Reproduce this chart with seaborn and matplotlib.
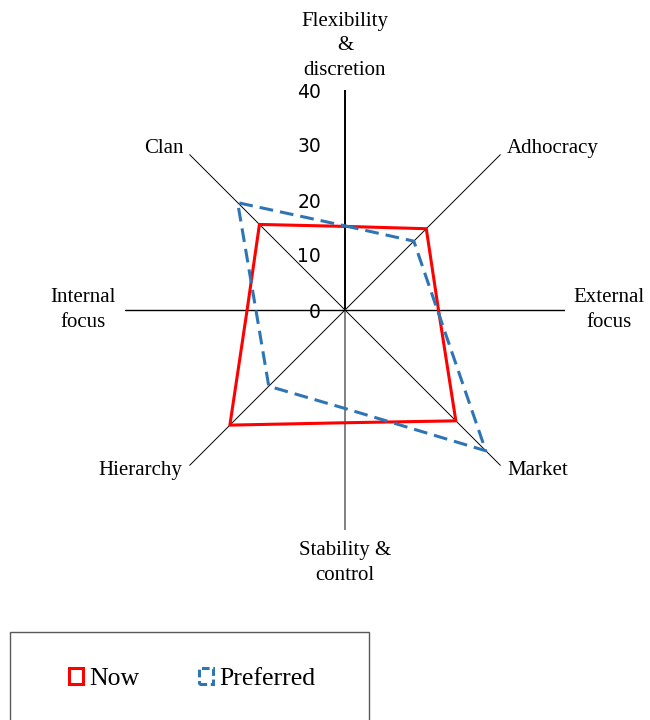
import numpy as np
import pandas as pd
import matplotlib
matplotlib.use("Agg")
import matplotlib.pyplot as plt
import matplotlib.patches as mpatches
import seaborn as sns

# categories clockwise from the top
categories = ["Flexibility\n&\ndiscretion", "Adhocracy", "External\nfocus", "Market",
              "Stability &\ncontrol", "Hierarchy", "Internal\nfocus", "Clan"]
now = [15.2, 20.9, 17.0, 28.5, 20.5, 29.6, 17.8, 22.0]
preferred = [15.3, 17.7, 16.8, 36.2, 17.9, 19.6, 16.2, 27.6]
r_ticks = [0, 10, 20, 30, 40]

sns.set_style("white")
plt.rcParams["font.family"] = ["Liberation Serif", "DejaVu Serif"]
plt.rcParams["text.color"] = "black"

n = len(categories)
theta = np.arange(n) * 2 * np.pi / n

rows = []
for name, vals in [("Now", now), ("Preferred", preferred)]:
    for t, v in zip(list(theta) + [2 * np.pi], vals + vals[:1]):
        rows.append({"theta": t, "value": v, "series": name})
df = pd.DataFrame(rows)

fig = plt.figure(figsize=(6.5, 7.2), dpi=100)
ax = fig.add_axes([125 / 650, 1 - 530 / 720, 440 / 650, 440 / 720], projection="polar")
ax.set_theta_zero_location("N")
ax.set_theta_direction(-1)
ax.set_ylim(0, 40)
ax.set_facecolor("none")
ax.spines["polar"].set_visible(False)
ax.grid(False)
ax.set_xticks([])
ax.set_yticks([])

# spokes
for i, t in enumerate(theta):
    if i == 0:
        ax.plot([t, t], [0, 40], color="black", lw=1.4, zorder=1)
    elif i == 4:
        ax.plot([t, t], [0, 40], color="#808080", lw=1.4, zorder=1)
    elif i in (2, 6):
        ax.plot([t, t], [0, 40], color="black", lw=1.0, zorder=1)
    else:
        ax.plot([t, t], [0, 40], color="black", lw=0.7, zorder=1)

sns.lineplot(data=df, x="theta", y="value", hue="series", style="series",
             palette={"Now": "#FF0000", "Preferred": "#2E75B6"},
             dashes={"Now": "", "Preferred": (4.5, 2.3)},
             sort=False, estimator=None, linewidth=2.2, legend=False, ax=ax, zorder=3)
ax.set_xlabel("")
ax.set_ylabel("")

# radial tick labels
for v in r_ticks:
    ax.annotate(str(v), xy=(0, v), xytext=(-24, -2), textcoords="offset pixels",
                ha="right", va="center", fontsize=13.5, family="DejaVu Sans", color="black")

# category labels
offsets = [(0, 44), (52, 6), (44, 0), (37, -5), (0, -33), (-49, -5), (-42, 0), (-26, 6)]
for t, lab, off in zip(theta, categories, offsets):
    ax.annotate(lab, xy=(t, 40), xytext=off, textcoords="offset pixels",
                ha="center", va="center", fontsize=15, linespacing=1.42,
                color="black", annotation_clip=False)

# legend box
fig.patches.append(mpatches.Rectangle((10 / 650, -0.1), 359 / 650, 0.1 + (1 - 632 / 720),
                                      transform=fig.transFigure, fill=False,
                                      edgecolor="#595959", lw=1))
handles = [mpatches.Patch(facecolor="none", edgecolor="#FF0000", lw=2.2, label="Now"),
           mpatches.Patch(facecolor="none", edgecolor="#2E75B6", lw=2.2, linestyle=(0, (2.5, 1.2)),
                          label="Preferred")]
leg = fig.legend(handles=handles, loc="center", bbox_to_anchor=(192 / 650, 1 - 679 / 720),
                 ncol=2, frameon=False, fontsize=18.5, handlelength=0.55, handleheight=0.55,
                 handletextpad=0.25, columnspacing=2.3)
for txt in leg.get_texts():
    txt.set_color("black")

fig.savefig("out.png", dpi=100)
